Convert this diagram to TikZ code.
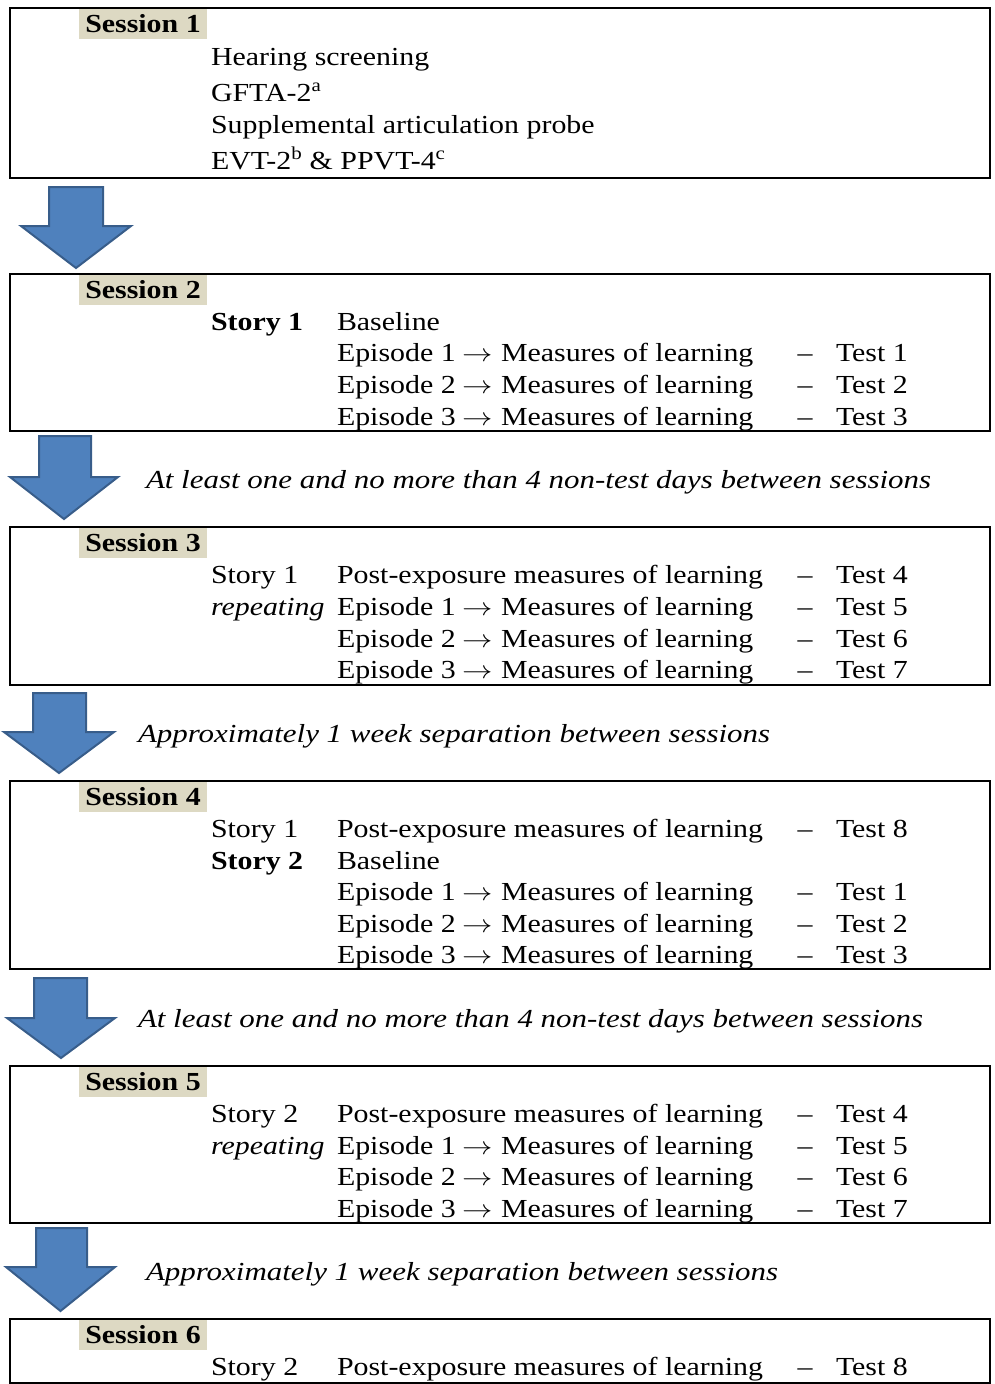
\documentclass[tikz,border=0pt]{standalone}
\usepackage{fontspec}
\setmainfont{Liberation Serif}[FakeStretch=1.15]
\newfontfamily\gapfont{Liberation Serif}[FakeStretch=1.19]
\definecolor{arrfill}{HTML}{4F81BD}
\definecolor{arrdraw}{HTML}{385D8A}
\definecolor{labfill}{HTML}{DDD9C3}
\newcommand\eprow[4]{%
  \node[txt] (#1a) at (337,#2) {Episode #3};
  \node[txt] (#1r) at (462,#2) {\scalebox{1.22}[1]{$\rightarrow$}};
  \node[txt] (#1m) at (501,#2) {Measures of learning};
  \node[txt, anchor=base] (#1b) at (805,#2) {–};
  \node[txt] (#1c) at (836,#2) {Test #4};
}
\newcommand\postrow[3]{%
  \node[txt] (#1a) at (337,#2) {Post-exposure measures of learning};
  \node[txt, anchor=base] (#1b) at (805,#2) {–};
  \node[txt] (#1c) at (836,#2) {Test #3};
}
\newcommand\blockarrow[7]{% shaft left, shaft right, top, head y, head left, head right, tip y
  \path[barrow] (#1,#3) -- (#2,#3) -- (#2,#4) -- (#6,#4) -- ({(#5+#6)/2},#7) -- (#5,#4) -- (#1,#4) -- cycle;
}
\begin{document}
\begin{tikzpicture}[x=1pt, y=-1pt,
  every node/.style={inner sep=0pt, outer sep=0pt},
  txt/.style={anchor=base west, font=\fontsize{26}{30}\selectfont},
  bld/.style={anchor=base west, font=\fontsize{26}{30}\selectfont\bfseries},
  gap/.style={anchor=base west, font=\fontsize{26}{30}\selectfont\gapfont\itshape},
  sbox/.style={draw, line width=2pt, anchor=north west, minimum width=980pt},
  slabel/.style={fill=labfill, anchor=north west, minimum width=128pt, minimum height=30pt, font=\fontsize{26}{30}\selectfont\bfseries},
  barrow/.style={fill=arrfill, draw=arrdraw, line width=2pt, line join=miter}]
\useasboundingbox (0,0) rectangle (994,1384);

% Session 1
\node[sbox, minimum height=170pt] (b1) at (10,8) {};
\node[slabel] (l1) at (79,9) {Session 1};
\node[txt] (s1a) at (211,65) {Hearing screening};
\node[txt] (s1b) at (211,101) {GFTA-2\textsuperscript{a}};
\node[txt] (s1c) at (211,133) {Supplemental articulation probe};
\node[txt] (s1d) at (211,169) {EVT-2\textsuperscript{b} \& PPVT-4\textsuperscript{c}};

\blockarrow{49}{103}{187}{226}{21}{131}{268}

% Session 2
\node[sbox, minimum height=157pt] (b2) at (10,274) {};
\node[slabel] (l2) at (79,275) {Session 2};
\node[bld] (s2st) at (211,330) {Story 1};
\node[txt] (s2bl) at (337,330) {Baseline};
\eprow{s2e1}{361}{1}{1}
\eprow{s2e2}{393}{2}{2}
\eprow{s2e3}{425}{3}{3}

\blockarrow{39}{91}{436}{477}{10}{118}{519}
\node[gap] (g1) at (146,488) {At least one and no more than 4 non-test days between sessions};

% Session 3
\node[sbox, minimum height=158pt] (b3) at (10,527) {};
\node[slabel] (l3) at (79,528) {Session 3};
\node[txt] (s3st) at (211,583) {Story 1};
\postrow{s3p}{583}{4}
\node[txt, font=\fontsize{26}{30}\selectfont\itshape] (s3rep) at (211,615) {repeating};
\eprow{s3e1}{615}{1}{5}
\eprow{s3e2}{647}{2}{6}
\eprow{s3e3}{678}{3}{7}

\blockarrow{33}{86}{693}{732}{4}{114}{773}
\node[gap] (g2) at (138,742) {Approximately 1 week separation between sessions};

% Session 4
\node[sbox, minimum height=188pt] (b4) at (10,781) {};
\node[slabel] (l4) at (79,782) {Session 4};
\node[txt] (s4st1) at (211,837) {Story 1};
\postrow{s4p}{837}{8}
\node[bld] (s4st2) at (211,869) {Story 2};
\node[txt] (s4bl) at (337,869) {Baseline};
\eprow{s4e1}{900}{1}{1}
\eprow{s4e2}{932}{2}{2}
\eprow{s4e3}{963}{3}{3}

\blockarrow{34}{87}{978}{1018}{7}{115}{1058}
\node[gap] (g3) at (138,1027) {At least one and no more than 4 non-test days between sessions};

% Session 5
\node[sbox, minimum height=157pt] (b5) at (10,1066) {};
\node[slabel] (l5) at (79,1067) {Session 5};
\node[txt] (s5st) at (211,1122) {Story 2};
\postrow{s5p}{1122}{4}
\node[txt, font=\fontsize{26}{30}\selectfont\itshape] (s5rep) at (211,1154) {repeating};
\eprow{s5e1}{1154}{1}{5}
\eprow{s5e2}{1185}{2}{6}
\eprow{s5e3}{1217}{3}{7}

\blockarrow{36}{87}{1228}{1267}{6}{115}{1311}
\node[gap] (g4) at (146,1280) {Approximately 1 week separation between sessions};

% Session 6
\node[sbox, minimum height=64pt] (b6) at (10,1319) {};
\node[slabel] (l6) at (79,1320) {Session 6};
\node[txt] (s6st) at (211,1375) {Story 2};
\postrow{s6p}{1375}{8}
\end{tikzpicture}
\end{document}
